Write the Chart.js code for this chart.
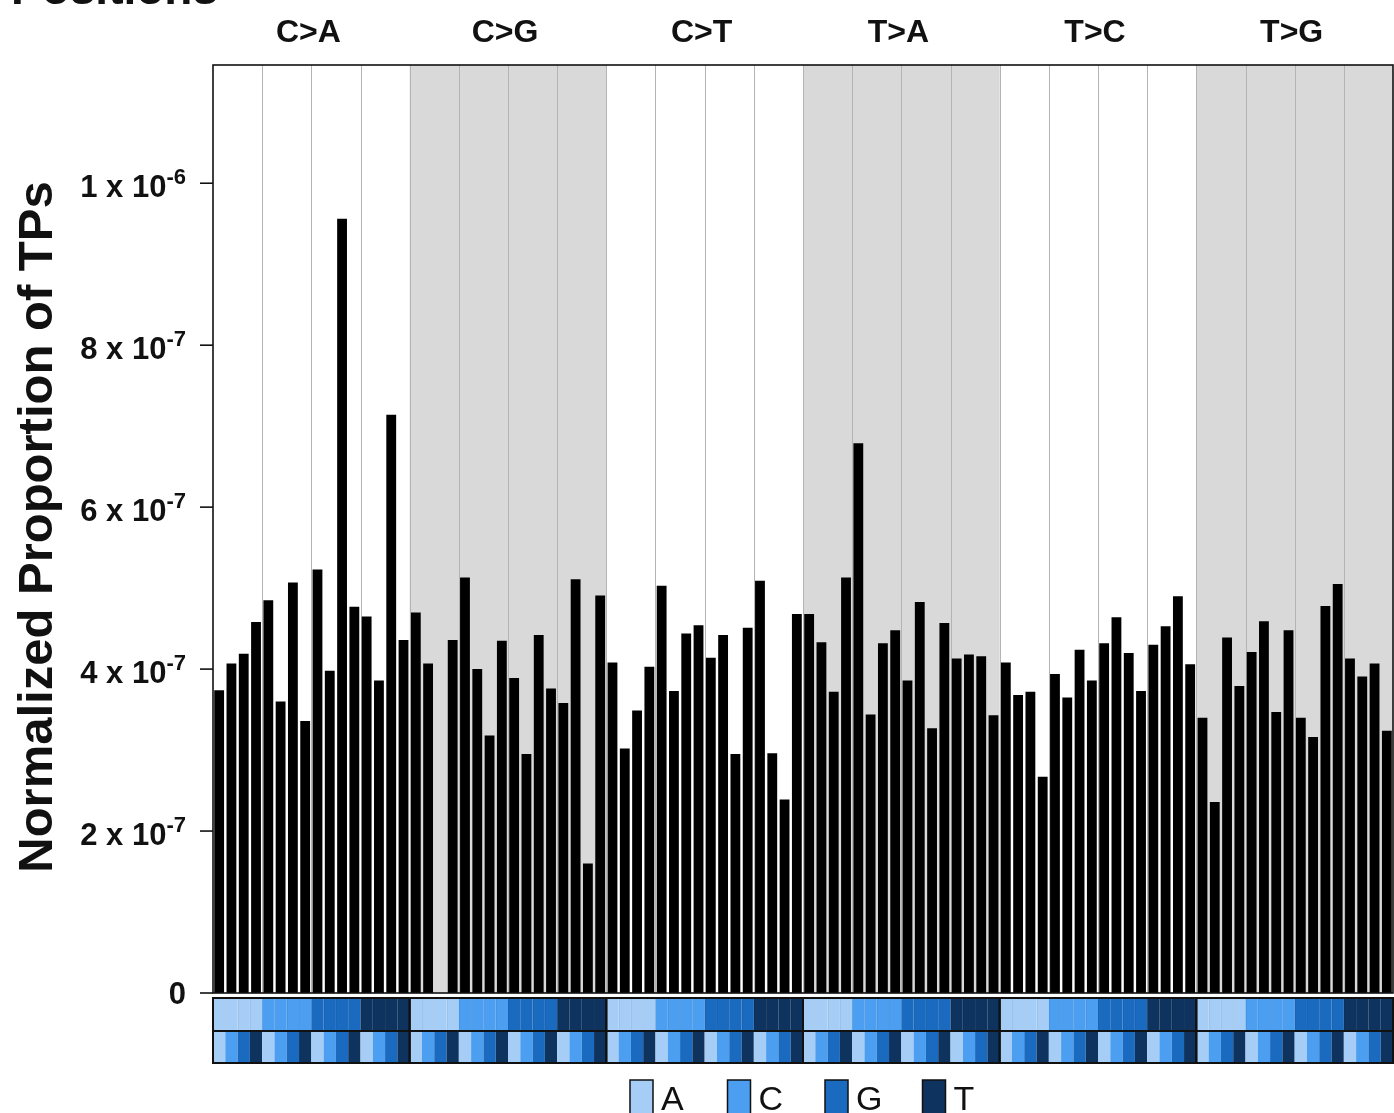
<!DOCTYPE html>
<html>
<head>
<meta charset="utf-8">
<script src="https://cdn.jsdelivr.net/npm/chart.js@4.4.1/dist/chart.umd.min.js"></script>
<style>
  body { margin: 0; background: #fff; }
  #wrap { width: 1394px; height: 1113px; }
</style>
</head>
<body>
<div id="wrap"><canvas id="myChart" width="1394" height="1113"></canvas></div>
<script>
const mutationTypes = ["C>A", "C>G", "C>T", "T>A", "T>C", "T>G"];
const bases = ["A", "C", "G", "T"];
const baseColors = ["#a6cdf6", "#4b9ef0", "#1a6ac0", "#0e335f"];

// values in units of 1e-7, 16 contexts per mutation type (5' base outer, 3' base inner)
const valsCA = [3.74, 4.07, 4.19, 4.58, 4.85, 3.60, 5.07, 3.36, 5.23, 3.98, 9.56, 4.77, 4.65, 3.86, 7.14, 4.36];
const valsCG = [4.70, 4.07, 0, 4.36, 5.13, 4.00, 3.18, 4.35, 3.89, 2.95, 4.42, 3.76, 3.58, 5.11, 1.60, 4.91];
const valsCT = [4.08, 3.02, 3.49, 4.03, 5.03, 3.73, 4.44, 4.54, 4.14, 4.42, 2.95, 4.51, 5.09, 2.96, 2.39, 4.68];
const valsTA = [4.68, 4.33, 3.72, 5.13, 6.79, 3.44, 4.32, 4.48, 3.86, 4.83, 3.27, 4.57, 4.13, 4.18, 4.16, 3.43];
const valsTC = [4.08, 3.68, 3.72, 2.67, 3.94, 3.65, 4.24, 3.86, 4.32, 4.64, 4.20, 3.73, 4.30, 4.53, 4.90, 4.06];
const valsTG = [3.40, 2.36, 4.39, 3.79, 4.21, 4.59, 3.47, 4.48, 3.40, 3.16, 4.78, 5.05, 4.13, 3.91, 4.07, 3.24];

// y ticks: [value, mantissa, exponent]
const yTicks = [[0, "0", ""], [2e-7, "2", "-7"], [4e-7, "4", "-7"], [6e-7, "6", "-7"], [8e-7, "8", "-7"], [1e-6, "1", "-6"]];

const allVals = [valsCA, valsCG, valsCT, valsTA, valsTC, valsTG].flat().map(v => v * 1e-7);
const labels = [];
mutationTypes.forEach(m => {
  bases.forEach(b5 => {
    bases.forEach(b3 => labels.push(b5 + "[" + m + "]" + b3));
  });
});

const FONT = "'Liberation Sans', Arial, Helvetica, sans-serif";

const decorPlugin = {
  id: "decor",
  beforeDatasetsDraw(chart) {
    const ctx = chart.ctx;
    const x = chart.scales.x;
    const area = chart.chartArea;
    const half = (x.getPixelForValue(1) - x.getPixelForValue(0)) / 2;
    const edge = i => i < labels.length ? x.getPixelForValue(i) - half : x.getPixelForValue(labels.length - 1) + half;
    ctx.save();
    // shaded panels
    mutationTypes.forEach((m, p) => {
      if (p % 2 === 1) {
        ctx.fillStyle = "#d9d9d9";
        ctx.fillRect(edge(p * 16), area.top, edge(p * 16 + 16) - edge(p * 16), area.bottom - area.top);
      }
    });
    // group lines every 4 contexts
    ctx.strokeStyle = "#b4b4b4";
    ctx.lineWidth = 1;
    for (let i = 4; i < labels.length; i += 4) {
      const px = Math.round(edge(i)) + 0.5;
      ctx.beginPath();
      ctx.moveTo(px, area.top);
      ctx.lineTo(px, area.bottom);
      ctx.stroke();
    }
    ctx.restore();
  },
  afterDraw(chart) {
    const ctx = chart.ctx;
    const x = chart.scales.x;
    const y = chart.scales.y;
    const area = chart.chartArea;
    const half = (x.getPixelForValue(1) - x.getPixelForValue(0)) / 2;
    const edge = i => i < labels.length ? x.getPixelForValue(i) - half : x.getPixelForValue(labels.length - 1) + half;
    ctx.save();

    // plot frame
    ctx.strokeStyle = "#111";
    ctx.lineWidth = 1.6;
    ctx.strokeRect(area.left, area.top, area.right - area.left, area.bottom - area.top);

    // y ticks and labels with superscript exponent
    ctx.fillStyle = "#111";
    ctx.textBaseline = "alphabetic";
    yTicks.forEach(t => {
      const py = y.getPixelForValue(t[0]);
      ctx.beginPath();
      ctx.moveTo(area.left - 13, py);
      ctx.lineTo(area.left, py);
      ctx.stroke();
      const right = area.left - 27;
      if (t[2] === "") {
        ctx.font = "bold 31px " + FONT;
        ctx.textAlign = "right";
        ctx.fillText(t[1], right, py + 11);
      } else {
        ctx.font = "bold 22px " + FONT;
        ctx.textAlign = "right";
        const supW = ctx.measureText(t[2]).width;
        ctx.fillText(t[2], right, py + 1);
        ctx.font = "bold 31px " + FONT;
        ctx.fillText(t[1] + " x 10", right - supW, py + 14);
      }
    });

    // axis title
    ctx.save();
    ctx.translate(52, 527);
    ctx.rotate(-Math.PI / 2);
    ctx.font = "bold 49px " + FONT;
    ctx.textAlign = "center";
    ctx.fillText("Normalized Proportion of TPs", 0, 0);
    ctx.restore();

    // panel headers
    ctx.font = "bold 32px " + FONT;
    ctx.textAlign = "center";
    mutationTypes.forEach((m, p) => {
      const cx = (edge(p * 16) + edge(p * 16 + 16)) / 2;
      ctx.fillText(m, cx - 3, 42);
    });

    // title, mostly above the canvas
    ctx.font = "bold 46px " + FONT;
    ctx.textAlign = "left";
    ctx.fillText("Positions", 11, 4);

    // context strips: 5' base row and 3' base row
    const r1 = area.bottom + 5, r2 = area.bottom + 38, r3 = area.bottom + 70;
    for (let i = 0; i < labels.length; i++) {
      const x0 = edge(i), x1 = edge(i + 1);
      const b5 = Math.floor(i / 4) % 4, b3 = i % 4;
      ctx.fillStyle = baseColors[b5];
      ctx.fillRect(x0, r1, x1 - x0, r2 - r1);
      ctx.fillStyle = baseColors[b3];
      ctx.fillRect(x0, r2, x1 - x0, r3 - r2);
      ctx.strokeStyle = "rgba(0,0,0,0.05)";
      ctx.lineWidth = 1;
      ctx.beginPath();
      ctx.moveTo(Math.round(x0) + 0.5, r1);
      ctx.lineTo(Math.round(x0) + 0.5, r2);
      ctx.stroke();
    }
    ctx.strokeStyle = "#111";
    ctx.lineWidth = 2;
    mutationTypes.forEach((m, p) => {
      const x0 = edge(p * 16), x1 = edge(p * 16 + 16);
      ctx.strokeRect(x0, r1, x1 - x0, r2 - r1);
      ctx.strokeRect(x0, r2, x1 - x0, r3 - r2);
    });

    // legend
    ctx.font = "34px " + FONT;
    ctx.textAlign = "left";
    bases.forEach((b, k) => {
      const lx = 630 + k * 97.5;
      ctx.fillStyle = baseColors[k];
      ctx.fillRect(lx, 1080, 23, 40);
      ctx.strokeStyle = "#111";
      ctx.lineWidth = 1.5;
      ctx.strokeRect(lx, 1080, 23, 40);
      ctx.fillStyle = "#111";
      ctx.fillText(b, lx + 31, 1110);
    });
    ctx.restore();
  }
};

new Chart("myChart", {
  type: "bar",
  data: {
    labels: labels,
    datasets: [{
      data: allVals,
      backgroundColor: "#000",
      borderWidth: 0,
      barPercentage: 0.8,
      categoryPercentage: 1
    }]
  },
  options: {
    responsive: false,
    animation: false,
    layout: { padding: { left: 213, right: 1, top: 65, bottom: 120 } },
    plugins: { legend: { display: false }, tooltip: { enabled: false } },
    scales: {
      x: { display: false, offset: true },
      y: { display: false, min: 0, max: 1.146e-6 }
    }
  },
  plugins: [decorPlugin]
});
</script>
</body>
</html>
